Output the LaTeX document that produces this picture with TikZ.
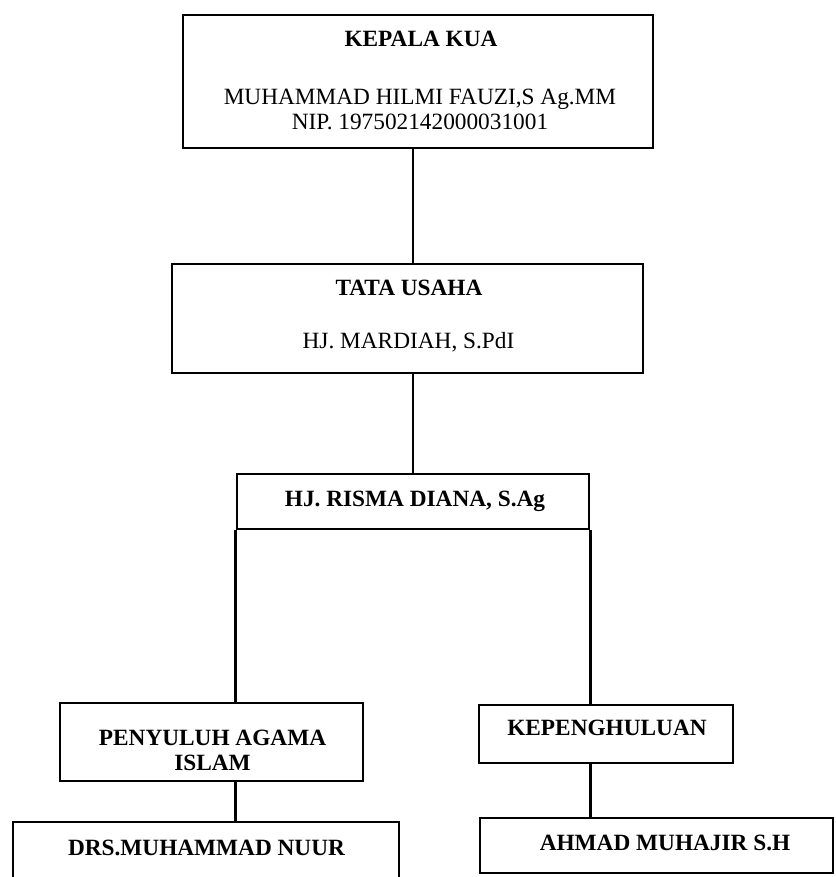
\documentclass[tikz,border=0pt]{standalone}
\usepackage{fontspec}
\setmainfont{Liberation Serif}
\usepackage{tikz}
\usetikzlibrary{positioning}
\tikzset{
    box/.style={
        draw,
        line width=2.8pt,
        rectangle,
        inner sep=0pt
    },
    txt/.style={
        anchor=base,
        inner sep=0pt,
        align=center,
        font=\fontsize{23.3}{25}\selectfont
    },
    head/.style={
        txt,
        font=\fontsize{23.3}{25}\selectfont\bfseries
    },
    link/.style={
        line width=2.8pt
    }
}

\begin{document}
\begin{tikzpicture}[
    x=1pt,
    y=-1pt
]
    \useasboundingbox (0,0) rectangle (835,877);

    % Kotak
    \node[box, minimum width=470pt, minimum height=133pt] (kepala)   at (418,81.5)  {};
    \node[box, minimum width=471pt, minimum height=109pt] (tata)     at (407.5,318.5) {};
    \node[box, minimum width=352pt, minimum height=55pt]  (risma)    at (413,501.5) {};
    \node[box, minimum width=303pt, minimum height=78pt]  (penyuluh) at (211.5,742) {};
    \node[box, minimum width=254pt, minimum height=58pt]  (kepeng)   at (606,734)   {};
    \node[box, minimum width=386pt, minimum height=90pt]  (drs)      at (206,867)   {};
    \node[box, minimum width=353pt, minimum height=55pt]  (ahmad)    at (656.5,845.5) {};

    % Teks (baseline = baris terakhir)
    \node[head] (kepalaT)   at (421,47)    {KEPALA KUA};
    \node[txt]  (kepalaN)   at (420,130)   {MUHAMMAD HILMI FAUZI,S Ag.MM\\NIP. 197502142000031001};
    \node[head] (tataT)     at (409,295)   {TATA USAHA};
    \node[txt]  (tataN)     at (408.5,348) {HJ. MARDIAH, S.PdI};
    \node[head] (rismaT)    at (415,506)   {HJ. RISMA DIANA, S.Ag};
    \node[head] (penyuluhT) at (212.5,770) {PENYULUH AGAMA\\ISLAM};
    \node[head] (drsT)      at (206.5,855) {DRS.MUHAMMAD NUUR};
    \node[head] (kepengT)   at (607,735)   {KEPENGHULUAN};
    \node[head] (ahmadT)    at (665,850)   {AHMAD MUHAJIR S.H};

    % Garis
    \draw[link] (kepala.south -| risma.north) -- (tata.north -| risma.north);
    \draw[link] (tata.south -| risma.north) -- (risma.north);
    \draw[link] (risma.south west) -- (penyuluh.north -| risma.south west);
    \draw[link] (risma.south east) -- (kepeng.north -| risma.south east);
    \draw[link] (penyuluh.south -| risma.west) -- (drs.north -| risma.west);
    \draw[link] (kepeng.south -| risma.east) -- (ahmad.north -| risma.east);

\end{tikzpicture}
\end{document}
